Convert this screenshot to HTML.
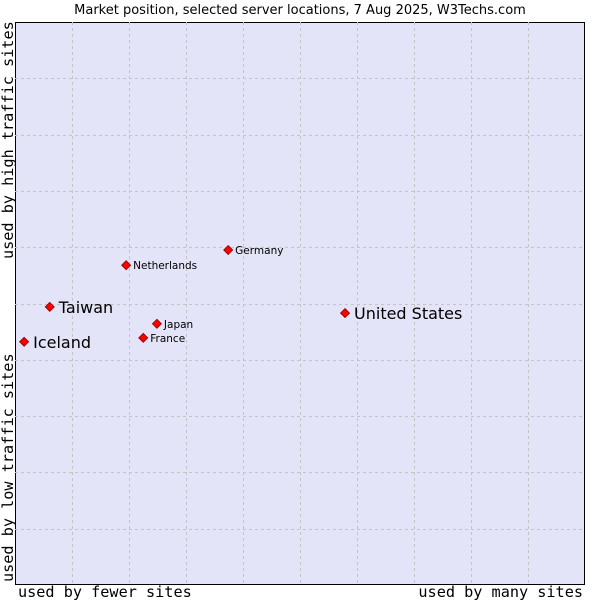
<!DOCTYPE html>
<html><head><meta charset="utf-8"><style>
body{margin:0;background:#fff;width:600px;height:600px;overflow:hidden}
svg text{font-family:"DejaVu Sans","Liberation Sans",sans-serif}
.mono{font-family:"DejaVu Sans Mono","Liberation Mono",monospace!important}
</style></head><body>
<svg id="chart" width="600" height="600">
<text x="300" y="14" font-size="13" text-anchor="middle">Market position, selected server locations, 7 Aug 2025, W3Techs.com</text>
<rect x="15.5" y="22.5" width="569" height="562" fill="#e3e4f8" stroke="#000"/>
<g id="grid"></g>
<g id="points"></g>
<text class="mono" x="18" y="597" font-size="15.2">used by fewer sites</text>
<text class="mono" x="583" y="597" font-size="15.2" text-anchor="end">used by many sites</text>
<text class="mono" transform="translate(13,582) rotate(-90)" font-size="15.2">used by low traffic sites</text>
<text class="mono" transform="translate(13,259) rotate(-90)" font-size="15.2">used by high traffic sites</text>
</svg>
<script>
const names=["Iceland","Taiwan","Netherlands","Germany","Japan","France","United States"];
const xVals=[1.6,6.1,19.5,37.4,24.9,22.5,57.9];
const yVals=[43.2,49.4,56.8,59.5,46.4,43.9,48.3];
const bigLabel=[true,true,false,false,false,false,true];
const NS="http://www.w3.org/2000/svg";
const X0=15,X1=585,Y0=585,Y1=22;
const sx=v=>X0+(X1-X0)*v/100, sy=v=>Y0-(Y0-Y1)*v/100;
const grid=document.getElementById('grid');
for(let i=1;i<10;i++){
 const l=document.createElementNS(NS,'line');
 l.setAttribute('x1',Math.round(sx(i*10))+0.5);l.setAttribute('x2',Math.round(sx(i*10))+0.5);
 l.setAttribute('y1',Y1);l.setAttribute('y2',Y0);
 l.setAttribute('stroke','#c4c4c4');l.setAttribute('stroke-dasharray','3,3');
 
 
 grid.appendChild(l);
 const h=document.createElementNS(NS,'line');
 h.setAttribute('y1',Math.round(sy(i*10))+0.5);h.setAttribute('y2',Math.round(sy(i*10))+0.5);
 h.setAttribute('x1',X0);h.setAttribute('x2',X1);
 h.setAttribute('stroke','#c4c4c4');h.setAttribute('stroke-dasharray','3,3');
 
 
 grid.appendChild(h);
}
const pts=document.getElementById('points');
names.forEach((n,i)=>{
 const x=sx(xVals[i]),y=sy(yVals[i]);
 const d=document.createElementNS(NS,'path');
 d.setAttribute('d',`M${x},${y-4.5}L${x+4.5},${y}L${x},${y+4.5}L${x-4.5},${y}Z`);
 d.setAttribute('fill','#f00');d.setAttribute('stroke','#800');d.setAttribute('stroke-width','0.8');
 
 
 pts.appendChild(d);
 const t=document.createElementNS(NS,'text');
 t.setAttribute('x',x+(bigLabel[i]?9:7));
 t.setAttribute('y',y+(bigLabel[i]?6:4));
 t.setAttribute('font-size',bigLabel[i]?16:10.5);
 t.textContent=n;
 
 
 pts.appendChild(t);
});
</script>
</body></html>
